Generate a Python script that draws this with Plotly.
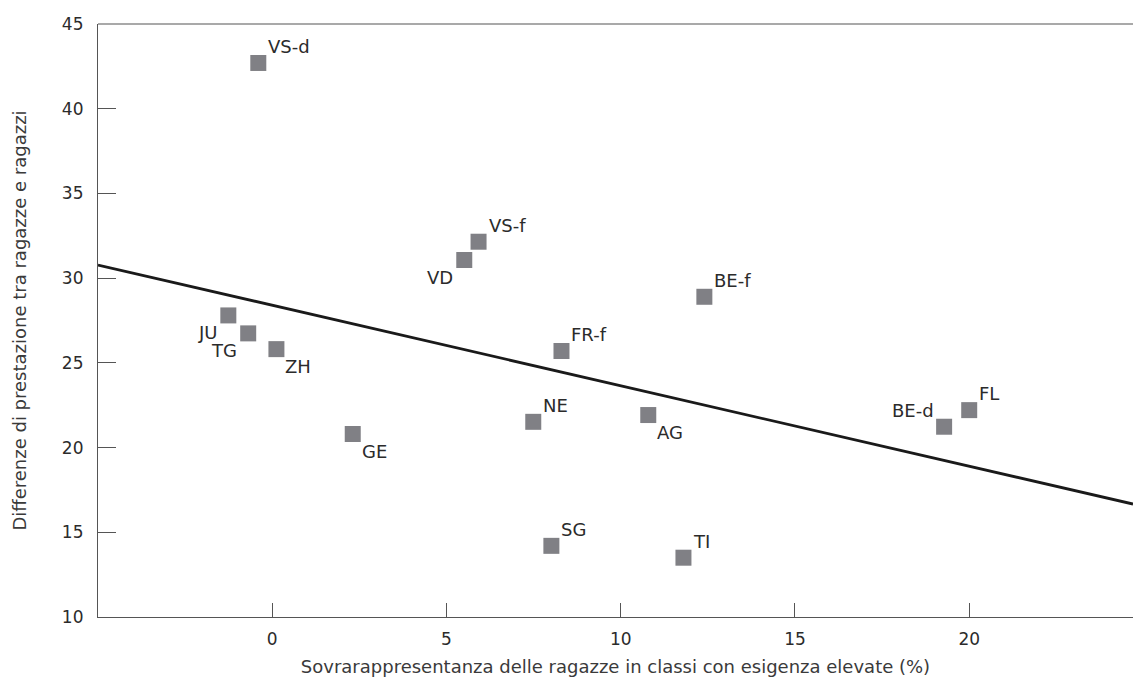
import plotly.graph_objects as go

cantons = ["VS-d", "JU", "TG", "ZH", "GE", "VD", "VS-f", "BE-f", "FR-f", "NE", "AG", "SG", "TI", "BE-d", "FL"]
x_vals = [-0.4, -1.26, -0.69, 0.12, 2.31, 5.51, 5.92, 12.4, 8.3, 7.49, 10.79, 8.01, 11.8, 19.28, 20.0]
y_vals = [42.7, 27.8, 26.74, 25.81, 20.8, 31.07, 32.15, 28.9, 25.7, 21.52, 21.92, 14.2, 13.5, 21.23, 22.21]
label_pos = ["top right", "bottom left", "bottom left", "bottom right", "bottom right", "bottom left",
             "top right", "top right", "top right", "top right", "bottom right", "top right",
             "top right", "top left", "top right"]

trend_intercept = 28.4
trend_slope = -0.475
x_range = [-5, 24.7]
y_range = [10, 45]
x_ticks = [0, 5, 10, 15, 20]
y_ticks = [10, 15, 20, 25, 30, 35, 40, 45]

font_family = "DejaVu Sans, sans-serif"
text_color = "#2b2b2b"
axis_color = "#555555"

fig = go.Figure()
fig.add_trace(go.Scatter(
    x=x_range,
    y=[trend_intercept + trend_slope * xv for xv in x_range],
    mode="lines",
    line=dict(color="#1a1a1a", width=2.8),
    hoverinfo="skip",
    showlegend=False,
))
fig.add_trace(go.Scatter(
    x=x_vals, y=y_vals,
    mode="markers",
    marker=dict(symbol="square", size=16, color="#808085"),
    showlegend=False,
    cliponaxis=False,
))

offsets = {
    "top right": dict(xanchor="left", yanchor="bottom", xshift=8, yshift=4),
    "top left": dict(xanchor="right", yanchor="bottom", xshift=-8, yshift=4),
    "bottom right": dict(xanchor="left", yanchor="top", xshift=7, yshift=-5),
    "bottom left": dict(xanchor="right", yanchor="top", xshift=-9, yshift=-5),
}
for name, xv, yv, pos in zip(cantons, x_vals, y_vals, label_pos):
    fig.add_annotation(x=xv, y=yv, text=name, showarrow=False,
                       font=dict(family=font_family, size=18, color=text_color),
                       **offsets[pos])

fig.update_layout(
    width=1133, height=681,
    margin=dict(l=98, r=0, t=24, b=64),
    paper_bgcolor="white", plot_bgcolor="white",
    font=dict(family=font_family, size=17, color=text_color),
)
fig.update_xaxes(
    range=x_range, tickvals=x_ticks, ticks="inside", ticklen=14, tickwidth=1.2,
    tickcolor=axis_color, showline=True, linecolor=axis_color, linewidth=1.2,
    showgrid=False, zeroline=False, automargin=False, ticklabelstandoff=6,
    tickfont=dict(family=font_family, size=17, color=text_color),
    title=dict(text="Sovrarappresentanza delle ragazze in classi con esigenza elevate (%)",
               font=dict(family=font_family, size=18, color="#3a3a3a"), standoff=12),
)
fig.update_yaxes(
    range=y_range, tickvals=y_ticks, ticks="inside", ticklen=18, tickwidth=1.2,
    tickcolor=axis_color, showline=True, linecolor=axis_color, linewidth=1.2,
    showgrid=False, zeroline=False, automargin=False, ticklabelstandoff=10,
    tickfont=dict(family=font_family, size=17, color=text_color),
    title=dict(text="Differenze di prestazione tra ragazze e ragazzi",
               font=dict(family=font_family, size=18, color="#3a3a3a"), standoff=30),
)
fig.add_shape(type="line", xref="paper", yref="paper", x0=0, x1=1, y0=1, y1=1,
              line=dict(color=axis_color, width=1.2))

fig.write_html("out.html",
               config={"displayModeBar": False},
               post_script="document.body.style.margin='0';document.body.style.overflow='hidden';")
